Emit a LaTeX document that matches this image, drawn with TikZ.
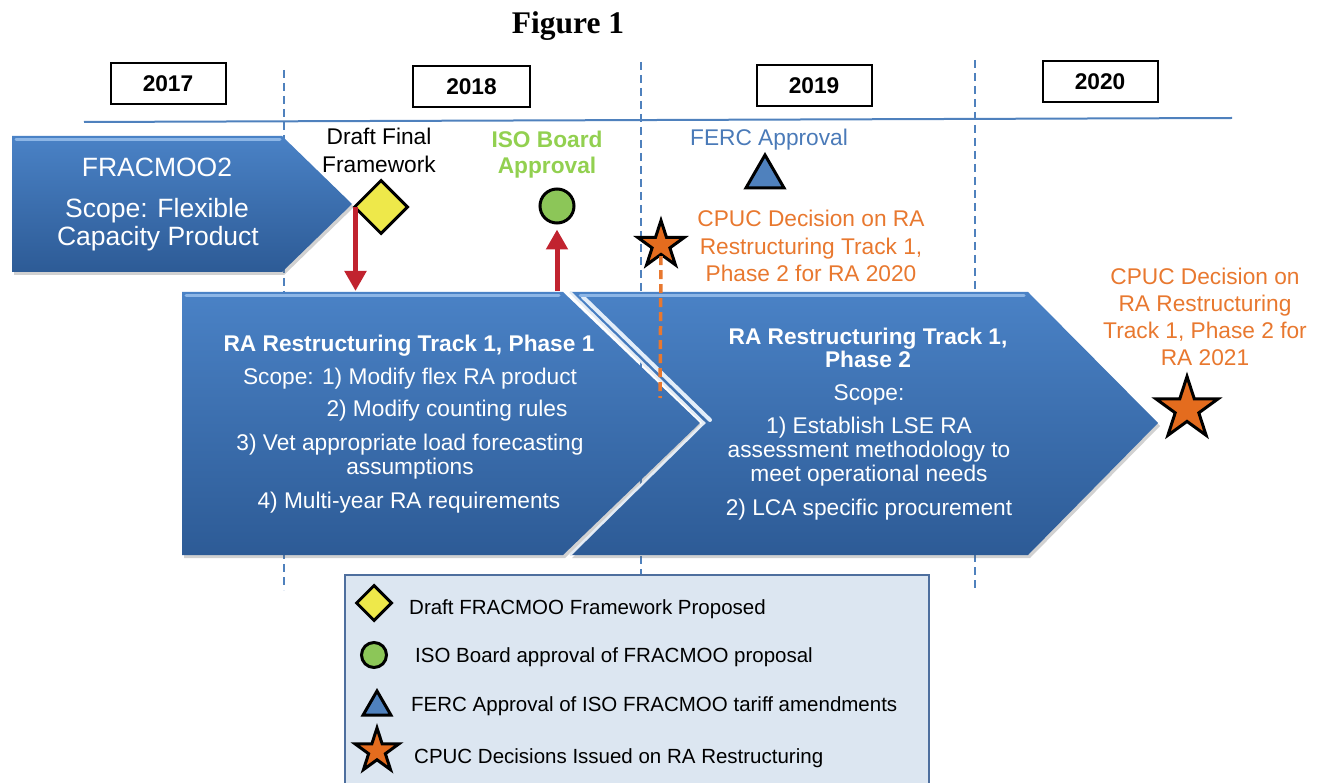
\documentclass[tikz,border=0pt]{standalone}
\usepackage{fontspec}
\setmainfont{Liberation Sans}
\newfontfamily\figurefont{Liberation Serif}
\usepackage{tikz}
\usetikzlibrary{shapes.geometric,arrows.meta,shadows}

\definecolor{lineblue}{HTML}{4F81BD}
\definecolor{chevtop}{HTML}{4A82C6}
\definecolor{chevbot}{HTML}{2D5B96}
\definecolor{bevel}{HTML}{8DB6E6}
\definecolor{markred}{HTML}{C1232F}
\definecolor{cpucorange}{HTML}{E8782F}
\definecolor{starorange}{HTML}{E46C1E}
\definecolor{isogreen}{HTML}{92D050}
\definecolor{circlegreen}{HTML}{8CC658}
\definecolor{diamondyellow}{HTML}{EEE84A}
\definecolor{fercblue}{HTML}{4A7AB8}
\definecolor{legendfill}{HTML}{DCE6F1}
\definecolor{legendedge}{HTML}{4E6F9E}

\newcommand{\labelfont}{\fontsize{22.7}{27.5}\selectfont}
\newcommand{\keyfont}{\fontsize{20.5}{24}\selectfont}
\newcommand{\fracfont}{\fontsize{26.5}{30}\selectfont}

\begin{document}
\begin{tikzpicture}[
        x=1pt, y=-1pt,
        >={Triangle[width=21pt,length=20pt]},
        yearbox/.style={draw, line width=2pt, minimum width=115pt, minimum height=41pt, inner sep=0pt, font=\labelfont\bfseries},
        yearline/.style={lineblue, line width=1.5pt, dash pattern=on 8pt off 5pt},
        chevron/.style={top color=chevtop, bottom color=chevbot, drop shadow={shadow xshift=2pt, shadow yshift=-3pt, opacity=0.3, fill=black!60}},
        bevelline/.style={bevel, line width=3pt, line cap=round},
        gapline/.style={white!85!lineblue, line width=2.5pt},
        shineline/.style={white!75!bevel, line width=4pt, line cap=round},
        intext/.style={text=white, font=\labelfont, anchor=base, inner sep=0pt},
        toptext/.style={font=\labelfont, anchor=base, inner sep=0pt},
        draftmark/.style={diamond, aspect=1, draw, line width=3pt, fill=diamondyellow, inner sep=0pt, minimum size=54pt},
        isomark/.style={circle, draw, line width=3pt, fill=circlegreen, inner sep=0pt, minimum size=34pt},
        fercmark/.style={regular polygon, regular polygon sides=3, draw, line width=3pt, fill=lineblue, inner sep=0pt, minimum size=44pt},
        cpucmark/.style={star, star points=5, star point ratio=2.618, draw, line width=3pt, fill=starorange, inner sep=0pt, minimum size=49pt},
        redarrow/.style={->, markred, line width=5pt},
        cpucline/.style={cpucorange, line width=3.5pt, dash pattern=on 9pt off 5pt},
        keybox/.style={fill=legendfill, draw=legendedge, line width=2.5pt},
        keytext/.style={font=\keyfont, anchor=base west, inner sep=0pt},
    ]
    \useasboundingbox (0,0) rectangle (1326,783);

    %Draw the title and the year boxes
    \node[font=\figurefont\bfseries\fontsize{31.5}{34}\selectfont, anchor=base, inner sep=0pt] (title) at (568,34) {Figure 1};
    \node[yearbox] (y2017) at (168,83.5) {2017};
    \node[yearbox, minimum width=117pt] (y2018) at (471.5,87) {2018};
    \node[yearbox] (y2019) at (814,86) {2019};
    \node[yearbox] (y2020) at (1100,81.5) {2020};

    %Draw the time line and the year borders
    \draw[lineblue, line width=2pt] (84,122) -- (1232,118);
    \foreach \x/\top in {284/70,641/62,975/60}
            \draw[yearline] (\x,\top) -- (\x,590);

    %Draw the FRACMOO2 arrow
    \path[chevron] (12,136) -- (282,136) -- (352,204) -- (282,272) -- (12,272) -- cycle;
    \draw[bevelline] (16,140) -- (280,140);
    \foreach \x/\y/\txt [count=\n] in {157/177/FRACMOO2,157/218/{Scope: Flexible},158/246/{Capacity Product}}
            \node[intext, font=\fracfont] (frac\n) at (\x,\y) {\txt};

    %Draw the milestone labels and markers
    \foreach \y/\txt [count=\n] in {145/{Draft Final},173/Framework}
            \node[toptext] (draftlbl\n) at (379,\y) {\txt};
    \foreach \y/\txt [count=\n] in {148/{ISO Board},174/Approval}
            \node[toptext, text=isogreen, font=\labelfont\bfseries] (isolbl\n) at (547,\y) {\txt};
    \node[toptext, text=fercblue] (ferclbl) at (769,146) {FERC Approval};
    \foreach \y/\txt [count=\n] in {227/{CPUC Decision on RA},255/{Restructuring Track 1,},282/{Phase 2 for RA 2020}}
            \node[toptext, text=cpucorange] (cpucalbl\n) at (811,\y) {\txt};
    \foreach \y/\txt [count=\n] in {285/{CPUC Decision on},312/{RA Restructuring},339/{Track 1, Phase 2 for},366/{RA 2021}}
            \node[toptext, text=cpucorange] (cpucblbl\n) at (1205,\y) {\txt};

    \node[draftmark] (draft) at (381,207) {};
    \node[isomark] (iso) at (557,206) {};
    \node[fercmark] (ferc) at (765,177) {};

    %Draw the two phase arrows
    \path[chevron] (182,292) -- (563,292) -- (700,423) -- (563,555) -- (182,555) -- cycle;
    \draw[bevelline] (186,296) -- (559,296);
    \path[chevron] (570,292) -- (1028,292) -- (1158,423) -- (1028,555) -- (570,555) -- (704,423) -- cycle;
    \draw[gapline] (570,292) -- (704,423) -- (570,555);
    \draw[shineline] (583,297) -- (710,420);
    \draw[bevelline] (580,296) -- (1024,296);

    \node[intext, font=\labelfont\bfseries] (p1title) at (409,352) {RA Restructuring Track 1, Phase 1};
    \foreach \x/\y/\txt [count=\n] in {410/385/{Scope: 1) Modify flex RA product},447/417/{2) Modify counting rules},410/451/{3) Vet appropriate load forecasting},410/475/assumptions,409/508/{4) Multi-year RA requirements}}
            \node[intext] (p1line\n) at (\x,\y) {\txt};

    \foreach \y/\txt [count=\n] in {345/{RA Restructuring Track 1,},368/{Phase 2}}
            \node[intext, font=\labelfont\bfseries] (p2title\n) at (868,\y) {\txt};
    \foreach \y/\txt [count=\n] in {401/Scope:,434/{1) Establish LSE RA},458/{assessment methodology to},482/{meet operational needs},515/{2) LCA specific procurement}}
            \node[intext] (p2line\n) at (869,\y) {\txt};

    %Draw the CPUC stars
    \node[cpucmark] (cpuca) at (661,245) {};
    \node[cpucmark, minimum size=65pt] (cpucb) at (1187,409) {};

    %Draw the arrows between the markers and the phases
    \coordinate (p1top) at (0,291);
    \coordinate (dropstart) at ([xshift=3pt]draft.west);
    \draw[redarrow] (dropstart) -- (dropstart |- p1top);
    \draw[redarrow, shorten >=5pt] (iso |- p1top) -- (iso.south);
    \coordinate (cpucaend) at (660,398);
    \draw[cpucline] (cpuca.south) -- (cpucaend);

    %Draw the legend
    \draw[keybox] (345,575) rectangle (929,790);
    \node[draftmark, minimum size=36pt] (keydraft) at (374,603) {};
    \node[isomark, minimum size=25pt] (keyiso) at (374,655) {};
    \node[fercmark, minimum size=32pt] (keyferc) at (377,707) {};
    \node[cpucmark, minimum size=46pt] (keycpuc) at (377,751) {};
    \node[keytext] (keydrafttxt) at (409,614) {Draft FRACMOO Framework Proposed};
    \node[keytext] (keyisotxt) at (415,662) {ISO Board approval of FRACMOO proposal};
    \node[keytext] (keyferctxt) at (411,711) {FERC Approval of ISO FRACMOO tariff amendments};
    \node[keytext] (keycpuctxt) at (414,763) {CPUC Decisions Issued on RA Restructuring};
\end{tikzpicture}
\end{document}
